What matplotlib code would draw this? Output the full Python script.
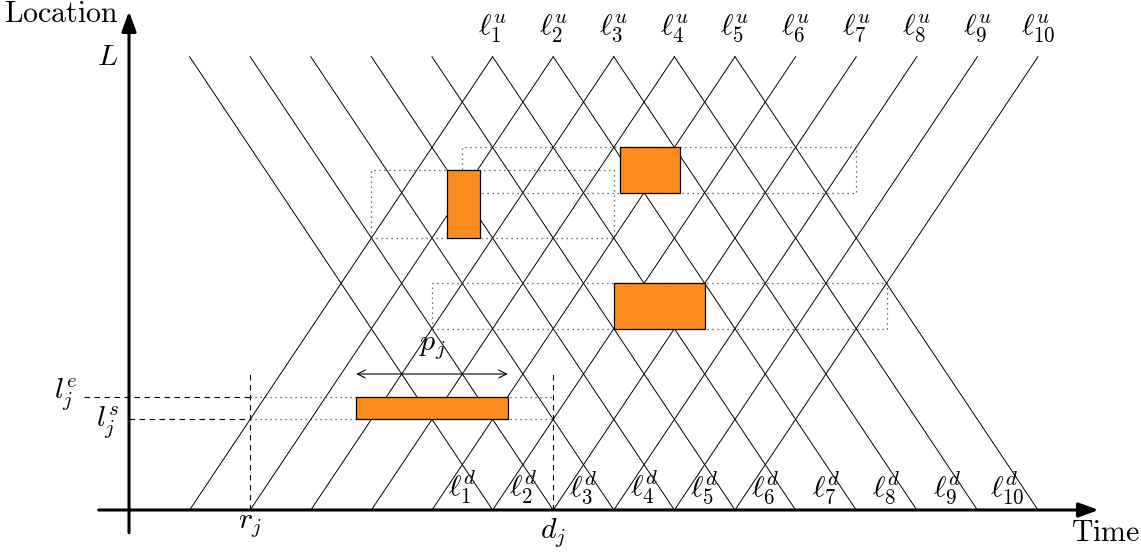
import matplotlib
matplotlib.use('Agg')
import matplotlib.pyplot as plt
from matplotlib.patches import Rectangle

plt.rcParams['mathtext.fontset'] = 'cm'

# 时间-位置网格线
L = 10
line_ids = [1, 2, 3, 4, 5, 6, 7, 8, 9, 10]
line_start = [1, 2, 3, 4, 5, 6, 7, 8, 9, 10]
travel = 5

# 任务 j
r_j, d_j = 2, 7
ls_j, le_j = 2.0, 2.5
task_j = (3.75, 6.25)

# 其它任务 (t0, t1, y0, y1) 及其时间窗
tasks = [(5.25, 5.8, 6.0, 7.5), (8.1, 9.1, 7.0, 8.0), (8.0, 9.5, 4.0, 5.0)]
windows = [(4.0, 8.0, 6.0, 7.5), (5.5, 12.0, 7.0, 8.0), (5.0, 12.5, 4.0, 5.0)]

orange = '#fd8c1e'
fs = 21.5

fig = plt.figure(figsize=(11.41, 5.52), dpi=100)
ax = fig.add_axes([0, 0, 1, 1])
ax.set_xlim(-129 / 60.6, (1141 - 129) / 60.6)
ax.set_ylim((510 - 552) / 45.33, 510 / 45.33)
ax.axis('off')

# 上行、下行线
for i, s in zip(line_ids, line_start):
    ax.plot([s, s + travel], [0, L], color='k', lw=0.7)
    ax.plot([s, s + travel], [L, 0], color='k', lw=0.7)
    ax.text(s + travel, L + 0.62, r'$\ell_{%d}^{u}$' % i, fontsize=fs, ha='center', va='center')
    ax.text(s + travel - 0.5, 0.5, r'$\ell_{%d}^{d}$' % i, fontsize=fs, ha='center', va='center')

# 时间窗 (虚点)
for t0, t1, y0, y1 in windows:
    ax.add_patch(Rectangle((t0, y0), t1 - t0, y1 - y0, fill=False, ls=(0, (1, 3)), lw=0.9, ec='#444444', zorder=3))
ax.plot([r_j, d_j], [ls_j, ls_j], color='#444444', ls=(0, (1, 3)), lw=0.9)
ax.plot([r_j, d_j], [le_j, le_j], color='#444444', ls=(0, (1, 3)), lw=0.9)

# 任务矩形
for t0, t1, y0, y1 in tasks:
    ax.add_patch(Rectangle((t0, y0), t1 - t0, y1 - y0, fc=orange, ec='k', lw=0.9, zorder=4))
ax.add_patch(Rectangle((task_j[0], ls_j), task_j[1] - task_j[0], le_j - ls_j, fc=orange, ec='k', lw=0.9, zorder=4))

# 虚线标记
ax.plot([r_j, r_j], [0, 3], color='k', ls=(0, (5, 4)), lw=0.8)
ax.plot([d_j, d_j], [0, 3], color='k', ls=(0, (5, 4)), lw=0.8)
ax.plot([-0.75, r_j], [le_j, le_j], color='k', ls=(0, (5, 4)), lw=0.8)
ax.plot([0, r_j], [ls_j, ls_j], color='k', ls=(0, (5, 4)), lw=0.8)

# p_j
ax.annotate('', xy=(task_j[1], 3), xytext=(task_j[0], 3),
            arrowprops=dict(arrowstyle='<->', lw=0.8, color='k', mutation_scale=14, shrinkA=0, shrinkB=0))
ax.text(sum(task_j) / 2, 3.6, r'$p_j$', fontsize=fs, ha='center', va='center')

# 坐标轴
ax.annotate('', xy=(16, 0), xytext=(-0.5, 0),
            arrowprops=dict(arrowstyle='-|>,head_length=0.6,head_width=0.22', lw=2.2, color='k', mutation_scale=20, shrinkA=0, shrinkB=0))
ax.annotate('', xy=(0, 11), xytext=(0, -0.5),
            arrowprops=dict(arrowstyle='-|>,head_length=0.6,head_width=0.22', lw=2.2, color='k', mutation_scale=20, shrinkA=0, shrinkB=0))
ax.text(-0.17, 10.77, r'$\mathrm{Location}$', fontsize=fs, ha='right', va='baseline')
ax.text(15.55, -0.5, r'$\mathrm{Time}$', fontsize=fs, ha='left', va='center')
ax.text(-0.35, 10, r'$L$', fontsize=fs, ha='center', va='center')
ax.text(-1.05, 2.55, r'$l_j^e$', fontsize=fs, ha='center', va='center')
ax.text(-0.35, 1.95, r'$l_j^s$', fontsize=fs, ha='center', va='center')
ax.text(r_j, -0.33, r'$r_j$', fontsize=fs, ha='center', va='center')
ax.text(d_j, -0.5, r'$d_j$', fontsize=fs, ha='center', va='center')

fig.savefig('out.png', dpi=100)
